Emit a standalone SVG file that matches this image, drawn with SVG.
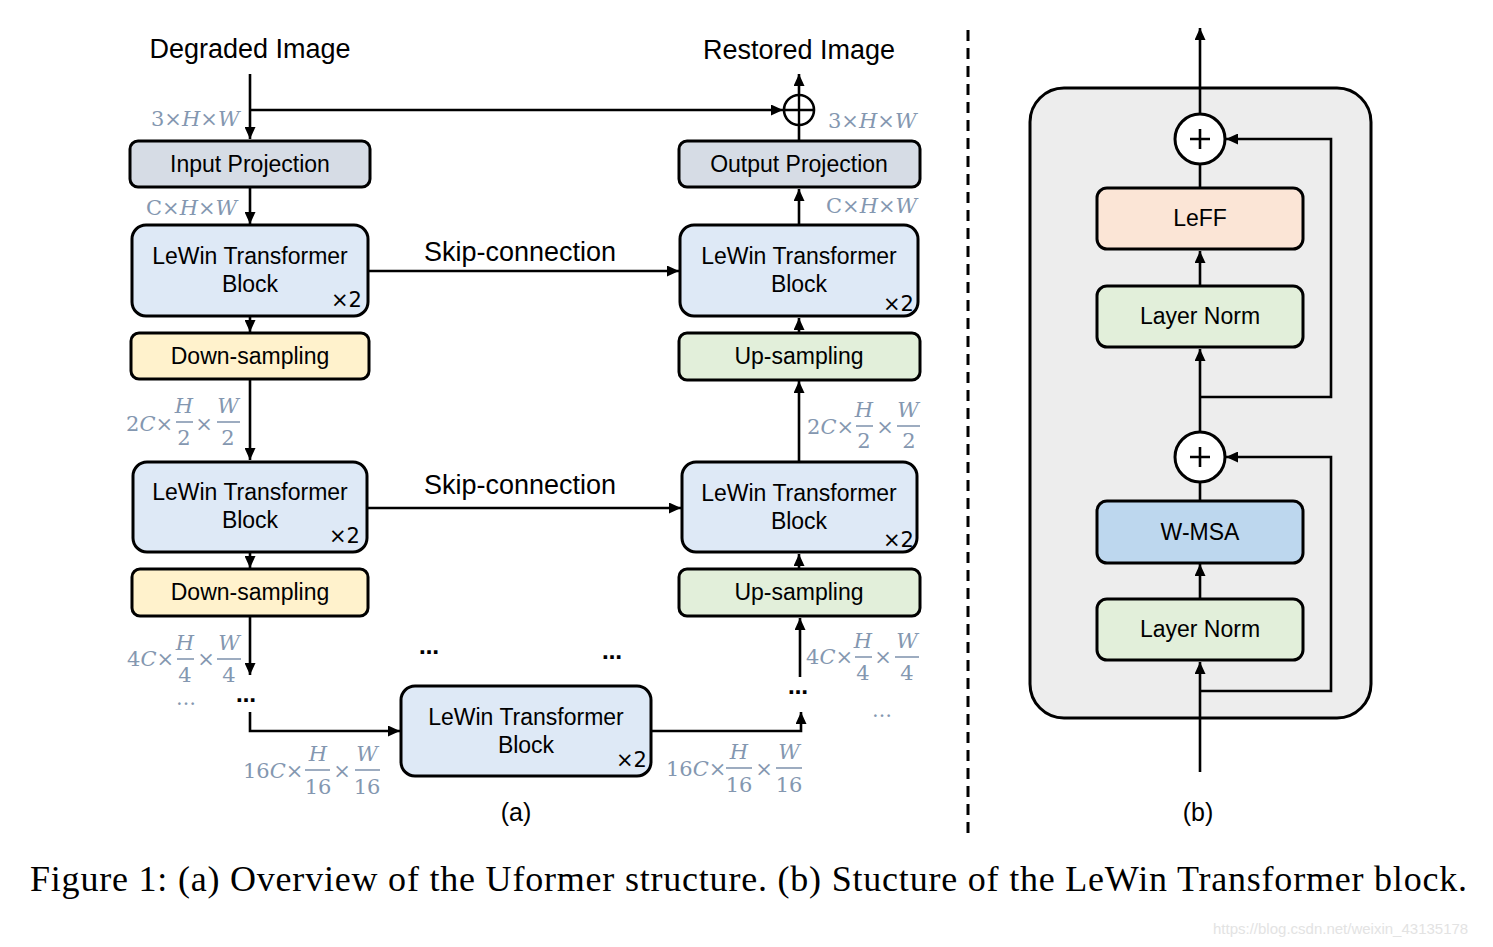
<svg xmlns="http://www.w3.org/2000/svg" width="1493" height="947" viewBox="0 0 1493 947">
<defs>
<marker id="ah" markerUnits="userSpaceOnUse" markerWidth="13" markerHeight="11" refX="12" refY="5.5" orient="auto">
<path d="M0,0 L12,5.5 L0,11 z" fill="#000"/>
</marker>
<style>
.box{stroke:#000;stroke-width:3}
.t{font-family:"Liberation Sans",Arial,sans-serif;font-size:23px;fill:#000;text-anchor:middle}
.ti{font-family:"Liberation Sans",Arial,sans-serif;font-size:27px;fill:#000;text-anchor:middle}
.tl{font-family:"Liberation Sans",Arial,sans-serif;font-size:25px;fill:#000;text-anchor:middle}
.x2{font-family:"DejaVu Sans","Liberation Sans",sans-serif;font-size:21px;fill:#000}
.m{font-family:"DejaVu Serif","Liberation Serif",serif;font-size:21px;fill:#8497b0}
.mi{font-style:italic}
.mc{text-anchor:middle}
.bar{stroke:#8497b0;stroke-width:1.6}
.c{fill:none;stroke:#000;stroke-width:2.6}
.ca{fill:none;stroke:#000;stroke-width:2.6;marker-end:url(#ah)}
.dots{font-family:"DejaVu Sans",sans-serif;font-size:20px;font-weight:bold;fill:#000}
.gdots{font-family:"DejaVu Serif",serif;font-size:20px;fill:#8497b0}
</style>
</defs>
<rect width="1493" height="947" fill="#fff"/>

<!-- titles -->
<text class="ti" x="250" y="58">Degraded Image</text>
<text class="ti" x="799" y="59">Restored Image</text>
<text class="ti" x="520" y="261">Skip-connection</text>
<text class="ti" x="520" y="494">Skip-connection</text>
<text class="tl" x="516" y="821">(a)</text>
<text class="tl" x="1198" y="821">(b)</text>

<!-- connectors (a) -->
<g id="connectors-a">
<path class="ca" d="M250,74 V139"/>
<path class="ca" d="M250,110 H783"/>
<path class="ca" d="M799,95 V74"/>
<path class="c" d="M799,141 V125"/>
<path class="ca" d="M250,188 V224"/>
<path class="ca" d="M250,317 V332"/>
<path class="ca" d="M250,380 V460"/>
<path class="ca" d="M250,553 V568"/>
<path class="ca" d="M250,617 V675"/>
<path class="ca" d="M250,712 V731 H400"/>
<path class="ca" d="M651,731 H801 V712"/>
<path class="ca" d="M800,677 V618"/>
<path class="ca" d="M799,568 V554"/>
<path class="ca" d="M799,462 V381"/>
<path class="ca" d="M799,333 V318"/>
<path class="ca" d="M799,225 V189"/>
<path class="ca" d="M368,271 H679"/>
<path class="ca" d="M367,508 H681"/>
</g>

<!-- add node -->
<g id="add-out">
<circle cx="799" cy="110" r="15" fill="#fff" stroke="#000" stroke-width="2.6"/>
<path d="M799,95 V125 M784,110 H814" stroke="#000" stroke-width="2.4"/>
</g>

<g id="input-proj">
<rect class="box" x="130" y="141" width="240" height="46" rx="8" fill="#d6dce5"/>
<text class="t" x="250" y="172">Input Projection</text>
</g>
<g id="output-proj">
<rect class="box" x="679" y="141" width="241" height="46" rx="8" fill="#d6dce5"/>
<text class="t" x="799" y="172">Output Projection</text>
</g>

<g id="enc1">
<rect class="box" x="132" y="225" width="236" height="91" rx="14" fill="#dee9f6"/>
<text class="t" x="250" y="264">LeWin Transformer</text>
<text class="t" x="250" y="292">Block</text>
<text class="x2" x="331" y="307">×2</text>
</g>
<g id="down1">
<rect class="box" x="131" y="333" width="238" height="46" rx="8" fill="#fff2cc"/>
<text class="t" x="250" y="364">Down-sampling</text>
</g>
<g id="enc2">
<rect class="box" x="133" y="462" width="234" height="90" rx="14" fill="#dee9f6"/>
<text class="t" x="250" y="500">LeWin Transformer</text>
<text class="t" x="250" y="528">Block</text>
<text class="x2" x="329" y="543">×2</text>
</g>
<g id="down2">
<rect class="box" x="132" y="569" width="236" height="47" rx="8" fill="#fff2cc"/>
<text class="t" x="250" y="600">Down-sampling</text>
</g>

<g id="dec1">
<rect class="box" x="680" y="225" width="238" height="91" rx="14" fill="#dee9f6"/>
<text class="t" x="799" y="264">LeWin Transformer</text>
<text class="t" x="799" y="292">Block</text>
<text class="x2" x="883" y="311">×2</text>
</g>
<g id="up1">
<rect class="box" x="679" y="333" width="241" height="47" rx="8" fill="#e2efda"/>
<text class="t" x="799" y="364">Up-sampling</text>
</g>
<g id="dec2">
<rect class="box" x="682" y="462" width="235" height="90" rx="14" fill="#dee9f6"/>
<text class="t" x="799" y="501">LeWin Transformer</text>
<text class="t" x="799" y="529">Block</text>
<text class="x2" x="883" y="547">×2</text>
</g>
<g id="up2">
<rect class="box" x="679" y="569" width="241" height="47" rx="8" fill="#e2efda"/>
<text class="t" x="799" y="600">Up-sampling</text>
</g>

<g id="bottleneck">
<rect class="box" x="401" y="686" width="250" height="90" rx="14" fill="#dee9f6"/>
<text class="t" x="526" y="725">LeWin Transformer</text>
<text class="t" x="526" y="753">Block</text>
<text class="x2" x="616" y="767">×2</text>
</g>

<!-- dimension labels -->
<g id="dims">
<text class="m" x="151" y="126">3×<tspan class="mi">H</tspan>×<tspan class="mi">W</tspan></text>
<text class="m" x="146" y="215">C×<tspan class="mi">H</tspan>×<tspan class="mi">W</tspan></text>
<text class="m" x="828" y="128">3×<tspan class="mi">H</tspan>×<tspan class="mi">W</tspan></text>
<text class="m" x="826" y="213">C×<tspan class="mi">H</tspan>×<tspan class="mi">W</tspan></text>

<!-- left 2C -->
<text class="m" x="126" y="431">2<tspan class="mi">C</tspan>×</text>
<text class="m mi mc" x="184" y="413">H</text>
<line class="bar" x1="176" y1="422" x2="193" y2="422"/>
<text class="m mc" x="184" y="445">2</text>
<text class="m mc" x="204" y="431">×</text>
<text class="m mi mc" x="228" y="413">W</text>
<line class="bar" x1="217" y1="422" x2="240" y2="422"/>
<text class="m mc" x="228" y="445">2</text>

<!-- right 2C -->
<text class="m" x="807" y="434">2<tspan class="mi">C</tspan>×</text>
<text class="m mi mc" x="864" y="417">H</text>
<line class="bar" x1="856" y1="426" x2="873" y2="426"/>
<text class="m mc" x="864" y="448">2</text>
<text class="m mc" x="885" y="434">×</text>
<text class="m mi mc" x="908" y="417">W</text>
<line class="bar" x1="897" y1="426" x2="920" y2="426"/>
<text class="m mc" x="909" y="448">2</text>

<!-- left 4C -->
<text class="m" x="127" y="666">4<tspan class="mi">C</tspan>×</text>
<text class="m mi mc" x="185" y="650">H</text>
<line class="bar" x1="177" y1="659" x2="194" y2="659"/>
<text class="m mc" x="185" y="682">4</text>
<text class="m mc" x="206" y="666">×</text>
<text class="m mi mc" x="229" y="650">W</text>
<line class="bar" x1="217" y1="659" x2="241" y2="659"/>
<text class="m mc" x="229" y="682">4</text>

<!-- right 4C -->
<text class="m" x="806" y="664">4<tspan class="mi">C</tspan>×</text>
<text class="m mi mc" x="863" y="648">H</text>
<line class="bar" x1="855" y1="657" x2="872" y2="657"/>
<text class="m mc" x="863" y="680">4</text>
<text class="m mc" x="883" y="664">×</text>
<text class="m mi mc" x="907" y="648">W</text>
<line class="bar" x1="895" y1="657" x2="919" y2="657"/>
<text class="m mc" x="907" y="680">4</text>

<!-- left 16C -->
<text class="m" x="243" y="778">16<tspan class="mi">C</tspan>×</text>
<text class="m mi mc" x="318" y="761">H</text>
<line class="bar" x1="305" y1="770" x2="330" y2="770"/>
<text class="m mc" x="318" y="794">16</text>
<text class="m mc" x="342" y="778">×</text>
<text class="m mi mc" x="367" y="761">W</text>
<line class="bar" x1="355" y1="770" x2="380" y2="770"/>
<text class="m mc" x="367" y="794">16</text>

<!-- right 16C -->
<text class="m" x="666" y="776">16<tspan class="mi">C</tspan>×</text>
<text class="m mi mc" x="739" y="759">H</text>
<line class="bar" x1="726" y1="768" x2="752" y2="768"/>
<text class="m mc" x="739" y="792">16</text>
<text class="m mc" x="764" y="776">×</text>
<text class="m mi mc" x="789" y="759">W</text>
<line class="bar" x1="776" y1="768" x2="802" y2="768"/>
<text class="m mc" x="789" y="792">16</text>
</g>

<!-- ellipses -->
<g id="ellipses">
<text class="dots" x="236" y="702">…</text>
<text class="dots" x="788" y="694">…</text>
<text class="dots" x="419" y="654">…</text>
<text class="dots" x="602" y="659">…</text>
<text class="gdots" x="176" y="705">…</text>
<text class="gdots" x="872" y="717">…</text>
</g>

<!-- divider -->
<line x1="968" y1="30" x2="968" y2="836" stroke="#000" stroke-width="3" stroke-dasharray="11 7"/>

<!-- panel (b) -->
<g id="lewin-block">
<rect x="1030" y="88" width="341" height="630" rx="34" fill="#ededed" stroke="#000" stroke-width="3"/>
</g>
<g id="connectors-b">
<path class="ca" d="M1200,114 V28"/>
<path class="c" d="M1200,188 V164"/>
<path class="ca" d="M1200,285 V251"/>
<path class="ca" d="M1200,432 V349"/>
<path class="ca" d="M1200,397 H1331 V139 H1226"/>
<path class="c" d="M1200,501 V482"/>
<path class="ca" d="M1200,598 V564"/>
<path class="ca" d="M1200,772 V662"/>
<path class="ca" d="M1200,691 H1331 V457 H1226"/>
</g>
<g id="add1">
<circle cx="1200" cy="139" r="25" fill="#fff" stroke="#000" stroke-width="3"/>
<path d="M1200,129 V149 M1190,139 H1210" stroke="#000" stroke-width="2.6"/>
</g>
<g id="leff">
<rect class="box" x="1097" y="188" width="206" height="61" rx="10" fill="#fbe5d6"/>
<text class="t" x="1200" y="226">LeFF</text>
</g>
<g id="ln1">
<rect class="box" x="1097" y="286" width="206" height="61" rx="10" fill="#e2efda"/>
<text class="t" x="1200" y="324">Layer Norm</text>
</g>
<g id="add2">
<circle cx="1200" cy="457" r="25" fill="#fff" stroke="#000" stroke-width="3"/>
<path d="M1200,447 V467 M1190,457 H1210" stroke="#000" stroke-width="2.6"/>
</g>
<g id="wmsa">
<rect class="box" x="1097" y="501" width="206" height="62" rx="10" fill="#bdd7ee"/>
<text class="t" x="1200" y="540">W-MSA</text>
</g>
<g id="ln2">
<rect class="box" x="1097" y="599" width="206" height="61" rx="10" fill="#e2efda"/>
<text class="t" x="1200" y="637">Layer Norm</text>
</g>

<!-- caption -->
<text x="30" y="891" font-family="'Liberation Serif','Times New Roman',serif" font-size="36" fill="#000" textLength="1437" lengthAdjust="spacing">Figure 1: (a) Overview of the Uformer structure. (b) Stucture of the LeWin Transformer block.</text>
<text x="1213" y="934" font-family="'Liberation Sans',Arial,sans-serif" font-size="15" fill="#e3e3e3">https://blog.csdn.net/weixin_43135178</text>
</svg>
